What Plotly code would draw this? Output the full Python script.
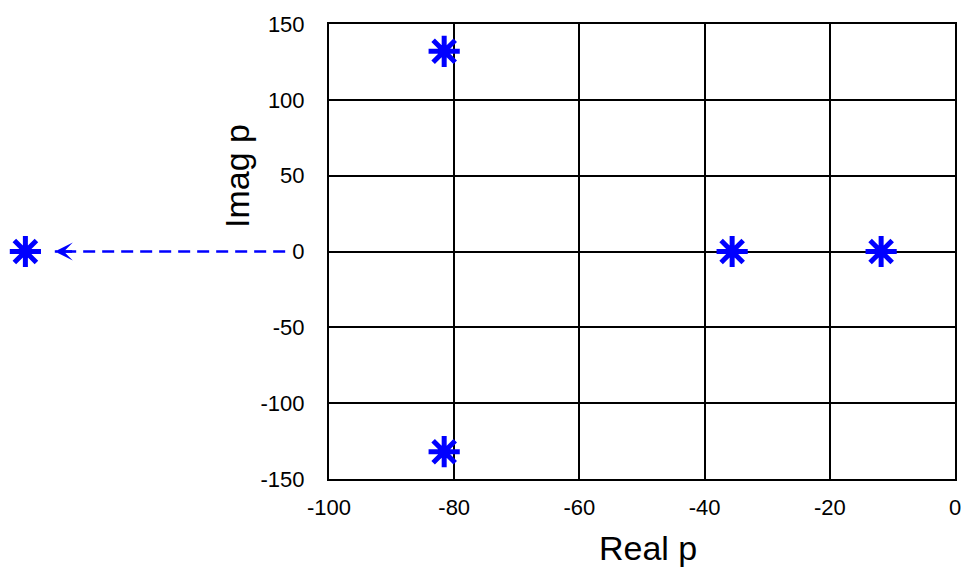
import plotly.graph_objects as go

# Poles inside the visible window
pole_real = [-81.6, -81.6, -35.6, -11.8]
pole_imag = [132, -132, 0, 0]
# Pole far to the left, off the window, with a dashed arrow pointing to it
far_real = [-148.5]
far_imag = [0]
arrow_real = [-107.0, -143.8]
arrow_imag = [0, 0]

x_ticks = [-100, -80, -60, -40, -20, 0]
x_labels = ["-100", "-80", "-60", "-40", "-20", "0"]
y_ticks = [-150, -100, -50, 0, 50, 100, 150]
y_labels = ["-150", "-100", "-50", "0", "50", "100", "150"]
x_range = [-100, 0]
y_range = [-150, 150]

W, H = 961, 569
ML, MR, MT, MB = 0, 6, 24, 90
plot_w = W - ML - MR
left_px = 329
d0 = left_px / plot_w
# secondary axis covering the full width with the same scale
x2_start = x_range[0] - (x_range[1] - x_range[0]) * d0 / (1 - d0)

BLUE = "#0000FF"
FONT = "Arial, Liberation Sans, sans-serif"
star = dict(symbol="asterisk-open", size=26, color=BLUE, line=dict(color=BLUE, width=5))

fig = go.Figure()
fig.add_trace(go.Scatter(
    x=pole_real, y=pole_imag, mode="markers", marker=star,
    cliponaxis=False, showlegend=False, xaxis="x", yaxis="y"))

fig.add_trace(go.Scatter(
    x=arrow_real, y=arrow_imag, mode="lines",
    line=dict(color=BLUE, width=2.5, dash="12px,7px"),
    showlegend=False, xaxis="x2", yaxis="y2"))
fig.add_trace(go.Scatter(
    x=far_real, y=far_imag, mode="markers", marker=star,
    cliponaxis=False, showlegend=False, xaxis="x2", yaxis="y2"))

fig.add_annotation(x=arrow_real[1], y=arrow_imag[1], ax=arrow_real[1] + 3, ay=arrow_imag[1],
                   xref="x2", yref="y2", axref="x2", ayref="y2", text="",
                   showarrow=True, arrowhead=3, arrowsize=1.2, arrowwidth=2.5, arrowcolor=BLUE)

fig.add_annotation(text="Real p", xref="paper", yref="paper", x=648 / plot_w, y=-0.152,
                   showarrow=False, xanchor="center", yanchor="middle",
                   font=dict(family=FONT, size=34, color="black"))
fig.add_annotation(text="Imag p", xref="paper", yref="paper", x=237 / plot_w, y=(479 - 176) / 455,
                   showarrow=False, xanchor="center", yanchor="middle", textangle=-90,
                   font=dict(family=FONT, size=34, color="black"))

fig.update_layout(
    width=W, height=H,
    margin=dict(l=ML, r=MR, t=MT, b=MB, autoexpand=False),
    paper_bgcolor="white", plot_bgcolor="rgba(0,0,0,0)",
    font=dict(family=FONT, size=22, color="black"),
    xaxis=dict(domain=[d0, 1], range=x_range, tickvals=x_ticks, ticktext=x_labels,
               showgrid=True, gridcolor="black", gridwidth=1.5, zeroline=False,
               showline=True, linecolor="black", linewidth=2, mirror=True, ticks="",
               ticklabelstandoff=8, anchor="y", automargin=False,
               ticklabeloverflow="allow"),
    yaxis=dict(range=y_range, tickvals=y_ticks, ticktext=y_labels, showgrid=True,
               gridcolor="black", gridwidth=1.5, zeroline=False, showline=True,
               linecolor="black", linewidth=2, mirror=True, ticks="",
               ticklabelstandoff=18, anchor="x", automargin=False,
               ticklabeloverflow="allow"),
    xaxis2=dict(domain=[0, 1], range=[x2_start, x_range[1]], visible=False,
                showgrid=False, zeroline=False, anchor="y2"),
    yaxis2=dict(range=y_range, visible=False, showgrid=False, zeroline=False,
                anchor="x2"),
)

fig.write_html("out.html")
